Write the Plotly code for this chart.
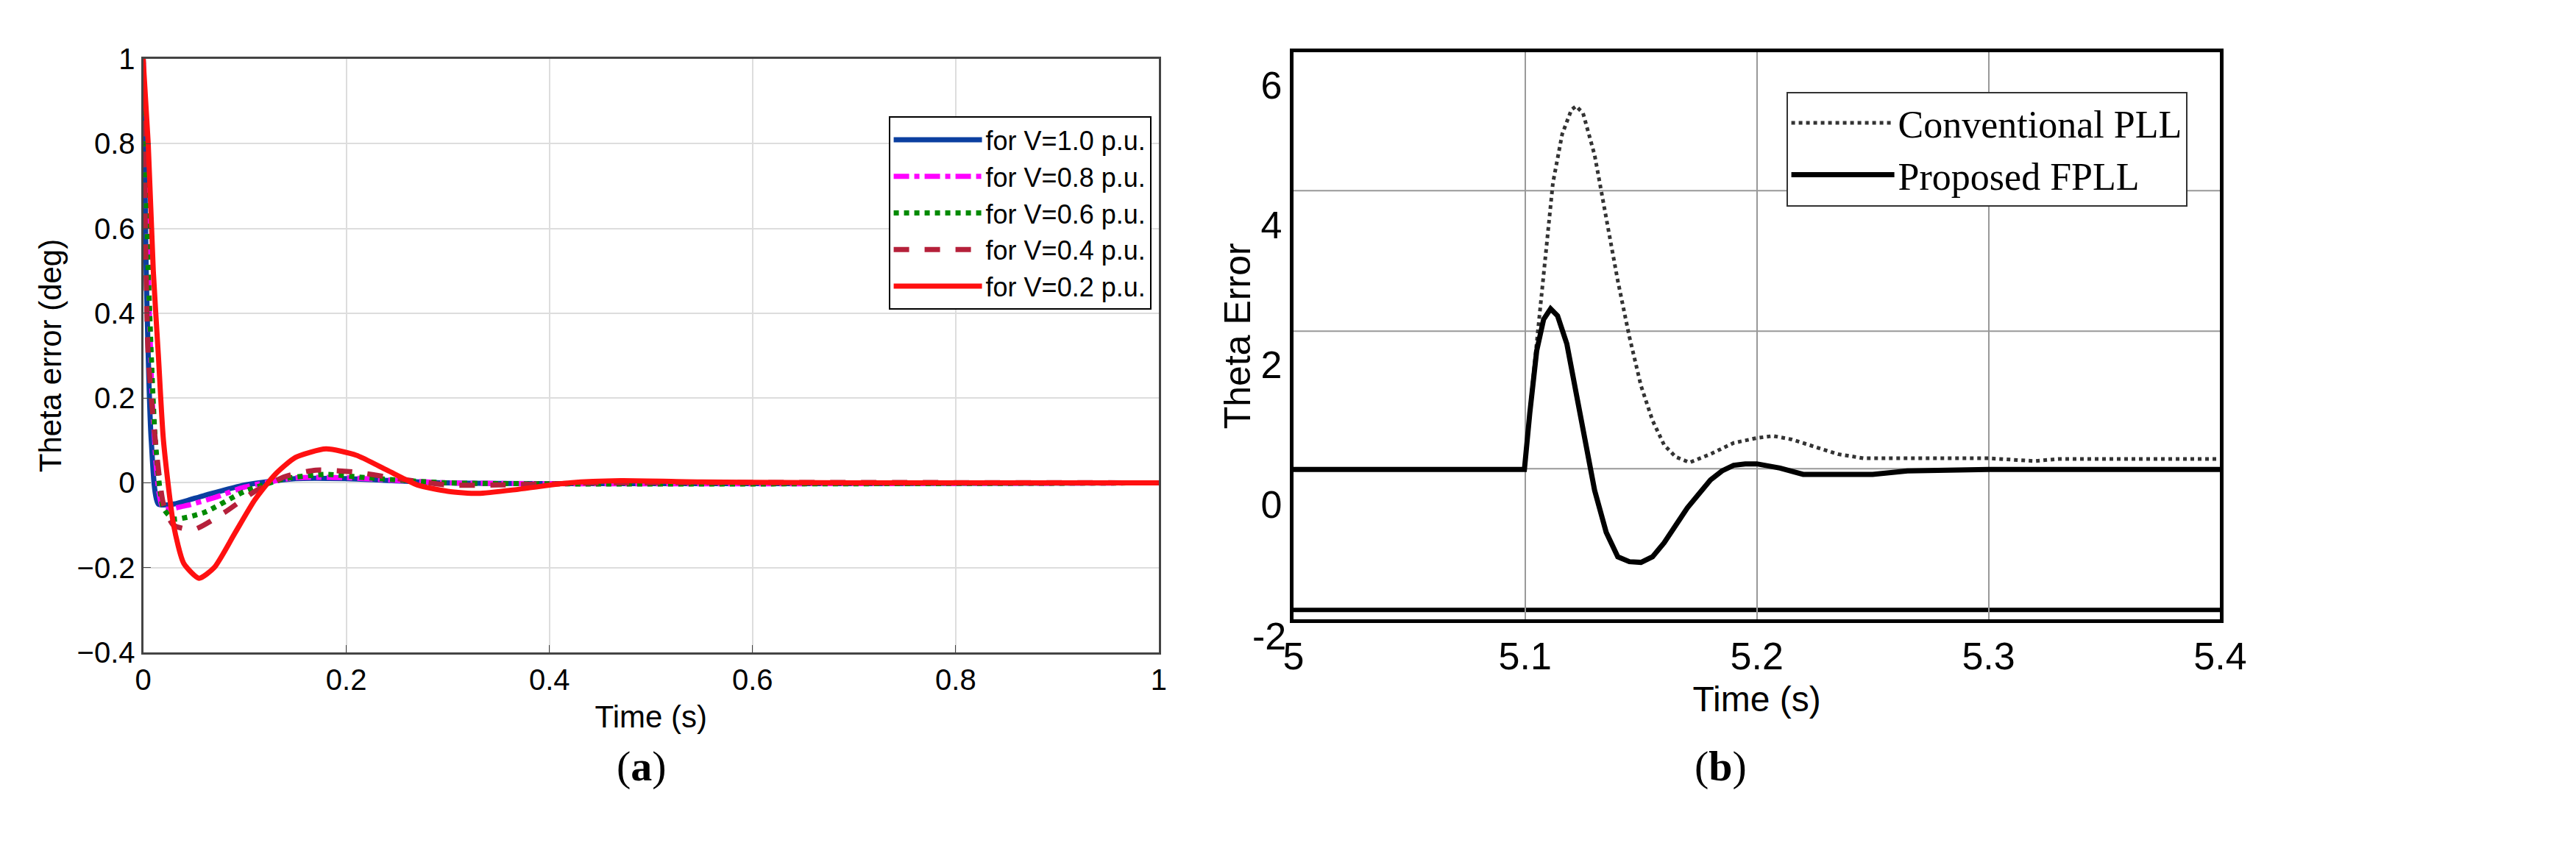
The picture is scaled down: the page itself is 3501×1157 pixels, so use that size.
import plotly.graph_objects as go

# ---- panel (a) data ----
t_10 = [0, 0.003, 0.008, 0.015, 0.03, 0.06, 0.1, 0.15, 0.2, 0.3, 1.0]
v_10 = [1.0, 0.5, 0.1, -0.05, -0.05, -0.03, -0.005, 0.01, 0.01, 0.0, 0.0]
t_08 = [0, 0.004, 0.01, 0.02, 0.04, 0.07, 0.1, 0.15, 0.2, 0.3, 1.0]
v_08 = [1.0, 0.6, 0.15, -0.06, -0.055, -0.035, -0.01, 0.012, 0.012, 0.0, 0.0]
t_06 = [0, 0.005, 0.012, 0.02, 0.03, 0.06, 0.1, 0.14, 0.18, 0.22, 0.3, 1.0]
v_06 = [1.0, 0.5, 0.1, -0.06, -0.085, -0.07, -0.02, 0.01, 0.02, 0.012, 0.0, 0.0]
t_04 = [0, 0.005, 0.012, 0.02, 0.03, 0.05, 0.08, 0.11, 0.14, 0.17, 0.21, 0.25, 0.3, 0.35, 0.45, 1.0]
v_04 = [1.0, 0.3, 0.1, -0.05, -0.1, -0.11, -0.07, -0.02, 0.015, 0.03, 0.025, 0.01, -0.005, -0.005, 0.0, 0.0]
t_02 = [0, 0.005, 0.01, 0.015, 0.02, 0.03, 0.04, 0.055, 0.07, 0.09, 0.11, 0.13, 0.15, 0.18,
        0.21, 0.24, 0.27, 0.3, 0.33, 0.37, 0.42, 0.47, 0.55, 0.7, 1.0]
v_02 = [1.0, 0.8, 0.5, 0.3, 0.1, -0.1, -0.19, -0.225, -0.2, -0.12, -0.04, 0.02, 0.06, 0.08,
        0.065, 0.03, -0.005, -0.02, -0.025, -0.015, 0.0, 0.005, 0.002, 0.0, 0.0]

# ---- panel (b) data ----
t_conv = [5.0, 5.0997, 5.101, 5.104, 5.108, 5.112, 5.116, 5.12, 5.122, 5.125, 5.13, 5.135, 5.14,
          5.145, 5.15, 5.155, 5.16, 5.165, 5.171, 5.18, 5.19, 5.2, 5.207, 5.215, 5.225, 5.235,
          5.246, 5.3, 5.32, 5.33, 5.4]
e_conv = [0.5, 0.5, 1.0, 2.0, 3.3, 4.6, 5.3, 5.65, 5.7, 5.6, 5.0, 4.1, 3.2, 2.4, 1.7, 1.2, 0.85,
          0.68, 0.6, 0.72, 0.88, 0.95, 0.98, 0.93, 0.82, 0.72, 0.66, 0.66, 0.62, 0.65, 0.65]
t_prop = [5.0, 5.0997, 5.102, 5.105, 5.108, 5.111, 5.114, 5.118, 5.122, 5.126, 5.13, 5.135, 5.14,
          5.145, 5.15, 5.155, 5.16, 5.165, 5.17, 5.175, 5.18, 5.185, 5.19, 5.195, 5.2, 5.21,
          5.22, 5.25, 5.265, 5.3, 5.4]
e_prop = [0.5, 0.5, 1.3, 2.2, 2.65, 2.8, 2.7, 2.3, 1.6, 0.9, 0.2, -0.4, -0.75, -0.82, -0.83,
          -0.75, -0.55, -0.3, -0.05, 0.15, 0.35, 0.48, 0.56, 0.58, 0.58, 0.52, 0.43, 0.43, 0.48,
          0.5, 0.5]
grid_b = [-1.51, 0.51, 2.48, 4.49]

fig = go.Figure()

sans = 'Liberation Sans, Arial, sans-serif'
serif = 'Liberation Serif, Times New Roman, serif'

series_a = [
    (t_10, v_10, 'for V=1.0 p.u.', '#0b3fa0', 'solid'),
    (t_08, v_08, 'for V=0.8 p.u.', '#ff00ff', 'dashdot'),
    (t_06, v_06, 'for V=0.6 p.u.', '#008a00', 'dot'),
    (t_04, v_04, 'for V=0.4 p.u.', '#b5203a', 'dash'),
    (t_02, v_02, 'for V=0.2 p.u.', '#ff1010', 'solid'),
]
for t, v, name, color, dash in series_a:
    fig.add_trace(go.Scatter(x=t, y=v, mode='lines', name=name,
                             line=dict(color=color, width=7, dash=dash, shape='spline', smoothing=0.6),
                             xaxis='x', yaxis='y', legend='legend'))

fig.add_trace(go.Scatter(x=t_conv, y=e_conv, mode='lines', name='Conventional PLL',
                         line=dict(color='#333333', width=5, dash='dot'),
                         xaxis='x2', yaxis='y2', legend='legend2'))
fig.add_trace(go.Scatter(x=t_prop, y=e_prop, mode='lines', name='Proposed FPLL',
                         line=dict(color='black', width=7),
                         xaxis='x2', yaxis='y2', legend='legend2'))

for g in grid_b:
    fig.add_shape(type='line', xref='x2', yref='y2', x0=5.0, x1=5.4, y0=g, y1=g, layer='below',
                  line=dict(color='#999999' if g > 0 else 'black', width=2 if g > 0 else 6))

fig.update_layout(
    width=3501, height=1157,
    margin=dict(l=0, r=0, t=0, b=0),
    paper_bgcolor='white', plot_bgcolor='white',
    font=dict(family=sans, color='black', size=40),
    xaxis=dict(domain=[0.05, 0.45], range=[0, 1], dtick=0.2, tickformat='.1~f',
               showgrid=True, gridcolor='#dddddd', gridwidth=2, zeroline=False,
               showline=True, linecolor='#444444', linewidth=3, mirror=True,
               ticks='inside', ticklen=10, tickcolor='#444444',
               title=dict(text='Time (s)', font=dict(size=42)), anchor='y'),
    yaxis=dict(domain=[0.23, 0.955], range=[-0.4, 1], dtick=0.2, tickformat='.1~f',
               showgrid=True, gridcolor='#dddddd', gridwidth=2, zeroline=False,
               showline=True, linecolor='#444444', linewidth=3, mirror=True,
               ticks='inside', ticklen=10, tickcolor='#444444',
               title=dict(text='Theta error (deg)', font=dict(size=42), standoff=8), anchor='x'),
    xaxis2=dict(domain=[0.503, 0.868], range=[5.0, 5.4], dtick=0.1,
                showgrid=True, gridcolor='#999999', gridwidth=2, zeroline=False,
                showline=True, linecolor='black', linewidth=5, mirror=True,
                tickfont=dict(size=52), anchor='y2',
                title=dict(text='Time (s)', font=dict(size=48))),
    yaxis2=dict(domain=[0.27, 0.963], range=[-1.65, 6.47], tickvals=[0, 2, 4, 6],
                showgrid=False, zeroline=False,
                showline=True, linecolor='black', linewidth=5, mirror=True,
                tickfont=dict(size=52), anchor='x2',
                title=dict(text='Theta Error', font=dict(size=50), standoff=0)),
    legend=dict(x=0.447, y=0.885, xanchor='right', yanchor='top',
                bgcolor='white', bordercolor='black', borderwidth=2,
                font=dict(size=36), tracegroupgap=0, itemwidth=120),
    legend2=dict(x=0.855, y=0.915, xanchor='right', yanchor='top',
                 bgcolor='white', bordercolor='#333333', borderwidth=2,
                 font=dict(family=serif, size=52), tracegroupgap=60, itemwidth=140),
    showlegend=True,
    annotations=[
        dict(text='-2', x=0.503, y=0.25, xref='paper', yref='paper', xanchor='right',
             yanchor='middle', showarrow=False, font=dict(size=52), xshift=-8),
        dict(text='(<b>a</b>)', x=0.236, y=0.06, xref='paper', yref='paper',
             showarrow=False, font=dict(family=serif, size=58)),
        dict(text='(<b>b</b>)', x=0.682, y=0.06, xref='paper', yref='paper',
             showarrow=False, font=dict(family=serif, size=58)),
    ],
)

fig.write_html('out.html')
